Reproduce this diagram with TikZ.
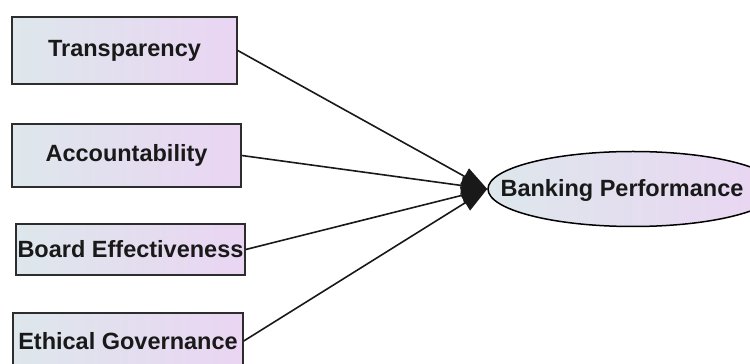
\documentclass[tikz,border=0pt]{standalone}
\usepackage{fontspec}
\setmainfont{Liberation Sans}
\usetikzlibrary{arrows.meta,shapes.geometric}
\definecolor{shl}{RGB}{221,231,236}
\definecolor{shr}{RGB}{234,213,243}
\definecolor{edgec}{RGB}{45,45,45}
\tikzset{
  box/.style={draw=edgec, line width=1.5pt, left color=shl, right color=shr, inner sep=0pt, minimum height=#1},
  oval/.style={ellipse, draw=black, line width=1.5pt, left color=shl, right color=shr, inner sep=0pt, minimum width=290pt, minimum height=75pt},
  lbl/.style={font=\bfseries\fontsize{23.5}{26}\selectfont, text=black!90},
  arr/.style={draw=black!90, line width=1.6pt, -{Triangle[length=26pt,width=18pt]}}
}
\begin{document}
\begin{tikzpicture}[x=1pt,y=1pt]
\useasboundingbox (0,0) rectangle (750,364);
\node[box=67pt, minimum width=225pt, lbl] (t) at (124.5,313.5) {Transparency};
\node[box=63pt, minimum width=229pt, lbl] (a) at (126.5,208.5) {Accountability};
\node[box=51pt, minimum width=229pt, lbl] (b) at (130.5,114.5) {Board Effectiveness};
\node[box=56pt, minimum width=230pt, lbl] (e) at (128,23) {Ethical Governance};
\node[oval] (bp) at (633,175) {};
\node[lbl, inner sep=0pt] (bpt) at (622,174) {Banking Performance};
\draw[arr] (t.east) -- (bp.west);
\draw[arr] (a.east) -- (bp.west);
\draw[arr] (b.east) -- (bp.west);
\draw[arr] (e.east) -- (bp.west);
\end{tikzpicture}
\end{document}
